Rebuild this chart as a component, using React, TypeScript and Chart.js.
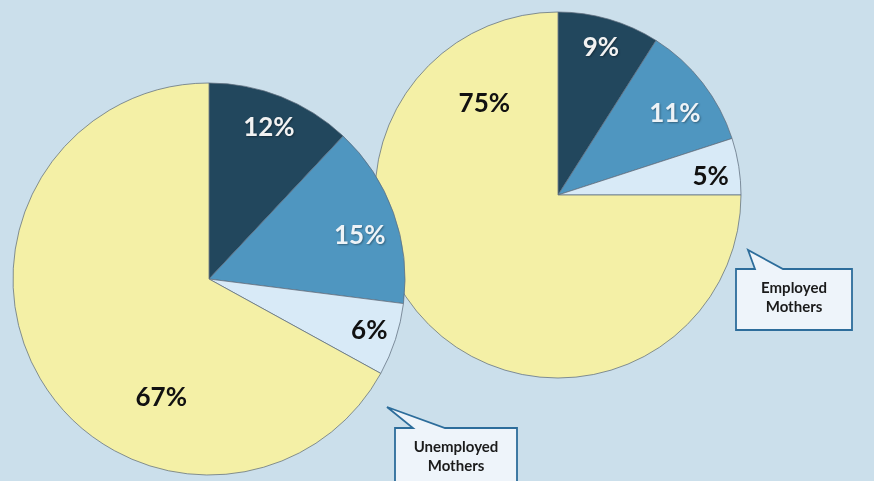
import React, { useEffect, useRef } from "react";
import { Chart, registerables } from "chart.js";

Chart.register(...registerables);

const categories = ["Group 1", "Group 2", "Group 3", "Group 4"];
const unemployedValues = [12, 15, 6, 67];
const employedValues = [9, 11, 5, 75];
const calloutTitles = ["Unemployed Mothers", "Employed Mothers"];

const sliceColors = ["#22475d", "#4f96c0", "#d8eaf7", "#f4f0a6"];
const labelColors = ["#f2f2f2", "#eef3f7", "#111111", "#111111"];
const BG = "#cbdfeb";

type Placement = { r: number; angle?: number };

const sliceLabelPlugin = {
  id: "sliceLabels",
  afterDatasetsDraw(chart: any, _args: any, opts: any) {
    const meta = chart.getDatasetMeta(0);
    const ctx = chart.ctx as CanvasRenderingContext2D;
    const data = chart.data.datasets[0].data as number[];
    const placement: Placement[] = opts.placement || [];
    ctx.save();
    meta.data.forEach((arc: any, i: number) => {
      const p = placement[i] || { r: 0.8 };
      const { x, y, startAngle, endAngle, outerRadius } = arc.getProps(
        ["x", "y", "startAngle", "endAngle", "outerRadius"],
        true
      );
      const ang =
        p.angle !== undefined ? ((p.angle - 90) * Math.PI) / 180 : (startAngle + endAngle) / 2;
      const tx = x + Math.cos(ang) * outerRadius * p.r;
      const ty = y + Math.sin(ang) * outerRadius * p.r;
      ctx.font = `bold ${opts.fontSize || 24}px Lato, "Open Sans", sans-serif`;
      ctx.textAlign = "center";
      ctx.textBaseline = "middle";
      if (i < 2) {
        ctx.shadowColor = "rgba(0,0,0,0.35)";
        ctx.shadowBlur = 2;
        ctx.shadowOffsetX = 1;
        ctx.shadowOffsetY = 1;
      } else {
        ctx.shadowColor = "transparent";
        ctx.shadowBlur = 0;
        ctx.shadowOffsetX = 0;
        ctx.shadowOffsetY = 0;
      }
      ctx.fillStyle = labelColors[i];
      ctx.fillText(`${data[i]}%`, tx, ty);
    });
    ctx.restore();
  },
};

function PieCanvas(props: {
  values: number[];
  radius: number;
  cx: number;
  cy: number;
  z: number;
  placement: Placement[];
}) {
  const ref = useRef<HTMLCanvasElement | null>(null);
  const size = props.radius * 2 + 8;
  useEffect(() => {
    if (!ref.current) return;
    const chart = new Chart(ref.current, {
      type: "pie",
      data: {
        labels: categories,
        datasets: [
          {
            data: props.values,
            backgroundColor: sliceColors,
            borderColor: "rgba(95,110,125,0.75)",
            borderWidth: 1,
            hoverOffset: 0,
          },
        ],
      },
      options: {
        responsive: false,
        animation: false,
        events: [],
        radius: props.radius,
        layout: { padding: 0 },
        plugins: {
          legend: { display: false },
          tooltip: { enabled: false },
          sliceLabels: { placement: props.placement, fontSize: 26 },
        } as any,
      },
      plugins: [sliceLabelPlugin],
    });
    return () => chart.destroy();
  }, []);
  return (
    <canvas
      ref={ref}
      width={size}
      height={size}
      style={{
        position: "absolute",
        left: props.cx - size / 2,
        top: props.cy - size / 2,
        width: size,
        height: size,
        zIndex: props.z,
      }}
    />
  );
}

function Callout(props: {
  x: number;
  y: number;
  w: number;
  h: number;
  tipX: number;
  tipY: number;
  baseL: number;
  baseR: number;
  lines: string[];
  z: number;
}) {
  const { x, y, w, h, tipX, tipY, baseL, baseR } = props;
  const d = `M ${x} ${y} L ${baseL} ${y} L ${tipX} ${tipY} L ${baseR} ${y} L ${x + w} ${y} L ${
    x + w
  } ${y + h} L ${x} ${y + h} Z`;
  const cx = x + w / 2;
  return (
    <svg
      width={874}
      height={481}
      style={{ position: "absolute", left: 0, top: 0, zIndex: props.z, pointerEvents: "none" }}
    >
      <path d={d} fill="#eef4fa" stroke="#2d6d9b" strokeWidth={1.8} strokeLinejoin="miter" />
      {props.lines.map((t, i) => (
        <text
          key={i}
          x={cx}
          y={y + 20 + i * 19}
          textAnchor="middle"
          dominantBaseline="middle"
          fontFamily='Lato, "Open Sans", sans-serif'
          fontWeight="bold"
          fontSize={15}
          fill="#1b1b1b"
        >
          {t}
        </text>
      ))}
    </svg>
  );
}

export default function App() {
  useEffect(() => {
    document.body.style.margin = "0";
  }, []);
  const [unTitleA, unTitleB] = calloutTitles[0].split(" ");
  const [emTitleA, emTitleB] = calloutTitles[1].split(" ");
  return (
    <div
      style={{
        position: "fixed",
        left: 0,
        top: 0,
        width: 874,
        height: 481,
        overflow: "hidden",
        background: BG,
      }}
    >
      <PieCanvas
        values={employedValues}
        radius={183}
        cx={558}
        cy={195}
        z={1}
        placement={[{ r: 0.84 }, { r: 0.78, angle: 55 }, { r: 0.84, angle: 83 }, { r: 0.64, angle: 321 }]}
      />
      <PieCanvas
        values={unemployedValues}
        radius={196}
        cx={209}
        cy={279}
        z={2}
        placement={[{ r: 0.83 }, { r: 0.8, angle: 74 }, { r: 0.86 }, { r: 0.65, angle: 202 }]}
      />
      <Callout
        x={736}
        y={269}
        w={116}
        h={61}
        tipX={748}
        tipY={250}
        baseL={755}
        baseR={783}
        lines={[emTitleA, emTitleB]}
        z={3}
      />
      <Callout
        x={395}
        y={428}
        w={122}
        h={70}
        tipX={387}
        tipY={407}
        baseL={413}
        baseR={445}
        lines={[unTitleA, unTitleB]}
        z={3}
      />
    </div>
  );
}
